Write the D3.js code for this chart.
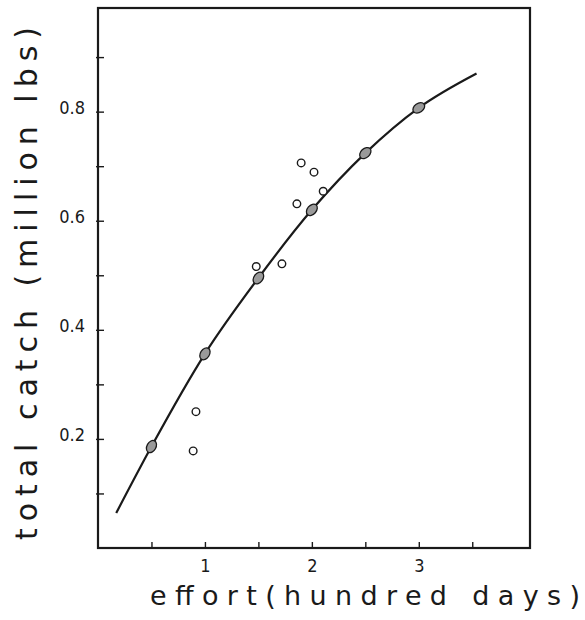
<!DOCTYPE html>
<html>
<head>
<meta charset="utf-8">
<script src="https://cdn.jsdelivr.net/npm/d3@7"></script>
<style>
  body { margin: 0; background: #fff; }
  text { font-family: "DejaVu Sans", sans-serif; fill: #1a1a1a; }
  .tick text { font-family: "Liberation Sans Narrow", "DejaVu Sans Condensed", sans-serif; }
</style>
</head>
<body>
<svg id="chart"></svg>
<script>
// hand-fitted catch curve
var curveEffort = [0.17, 0.5, 1, 1.5, 2, 2.5, 3, 3.54];
var curveCatch = [0.064, 0.186, 0.356, 0.495, 0.62, 0.724, 0.807, 0.87];

// hatched points sitting on the curve
var fittedEffort = [0.5, 1, 1.5, 2, 2.5, 3];
var fittedCatch = [0.186, 0.356, 0.495, 0.62, 0.724, 0.807];

// open circles: observed catches
var observedEffort = [0.89, 0.916, 1.48, 1.72, 1.86, 1.9, 2.02, 2.106];
var observedCatch = [0.178, 0.25, 0.516, 0.521, 0.631, 0.706, 0.689, 0.654];

var xTickValues = [0.5, 1, 1.5, 2, 2.5, 3, 3.5];
var xTickLabels = [1, 2, 3];
var yTickValues = [0.1, 0.2, 0.3, 0.4, 0.5, 0.6, 0.7, 0.8, 0.9];
var yTickLabels = [0.2, 0.4, 0.6, 0.8];

var width = 585,
  height = 620;

var svg = d3.select('#chart')
  .attr('width', width)
  .attr('height', height);

var x = d3.scaleLinear().domain([0, 4.04]).range([98, 530]);
var y = d3.scaleLinear().domain([0, 0.99]).range([548, 8]);

var ink = '#1a1a1a';

// x axis (ticks pointing inside)
var xAxis = svg.append('g')
  .attr('transform', 'translate(0,' + y(0) + ')')
  .call(d3.axisBottom(x)
    .tickValues(xTickValues)
    .tickSize(-6)
    .tickPadding(11)
    .tickFormat(function(d) {
      return xTickLabels.indexOf(d) >= 0 ? d3.format('d')(d) : '';
    }));
xAxis.select('.domain').remove();
xAxis.selectAll('line').attr('stroke', ink).attr('stroke-width', 1.4);
xAxis.selectAll('text').style('font-size', '18px').attr('fill', ink);

// y axis
var yAxis = svg.append('g')
  .attr('transform', 'translate(' + x(0) + ',0)')
  .call(d3.axisLeft(y)
    .tickValues(yTickValues)
    .tickSize(-6)
    .tickPadding(13)
    .tickFormat(function(d) {
      return yTickLabels.indexOf(d) >= 0 ? d3.format('.1f')(d) : '';
    }));
yAxis.select('.domain').remove();
yAxis.selectAll('line').attr('x1', -2).attr('stroke', ink).attr('stroke-width', 1.4);
yAxis.selectAll('text')
  .style('font-size', '18px')
  .attr('fill', ink)
  .attr('dy', '0.08em');

// frame
svg.append('rect')
  .attr('x', x(0))
  .attr('y', y(0.99))
  .attr('width', x(4.04) - x(0))
  .attr('height', y(0) - y(0.99))
  .attr('fill', 'none')
  .attr('stroke', ink)
  .attr('stroke-width', 2.2);

// curve
var curvePts = curveEffort.map(function(e, i) { return [e, curveCatch[i]]; });
var line = d3.line()
  .x(function(d) { return x(d[0]); })
  .y(function(d) { return y(d[1]); })
  .curve(d3.curveMonotoneX);

svg.append('path')
  .datum(curvePts)
  .attr('d', line)
  .attr('fill', 'none')
  .attr('stroke', ink)
  .attr('stroke-width', 2.2);

// hatched points, elongated along the curve
var fitted = fittedEffort.map(function(e, i) { return [e, fittedCatch[i]]; });
svg.append('g').selectAll('ellipse')
  .data(fitted)
  .enter().append('ellipse')
  .attr('rx', 6.5)
  .attr('ry', 4.5)
  .attr('transform', function(d) {
    var k = curveEffort.indexOf(d[0]);
    var a = curvePts[Math.max(k - 1, 0)], b = curvePts[Math.min(k + 1, curvePts.length - 1)];
    var ang = Math.atan2(y(b[1]) - y(a[1]), x(b[0]) - x(a[0])) * 180 / Math.PI;
    return 'translate(' + x(d[0]) + ',' + y(d[1]) + ') rotate(' + ang + ')';
  })
  .attr('fill', '#9a9a9a')
  .attr('stroke', ink)
  .attr('stroke-width', 1.3);

// open circles
svg.append('g').selectAll('circle')
  .data(observedEffort.map(function(e, i) { return [e, observedCatch[i]]; }))
  .enter().append('circle')
  .attr('cx', function(d) { return x(d[0]); })
  .attr('cy', function(d) { return y(d[1]); })
  .attr('r', 3.8)
  .attr('fill', '#fff')
  .attr('stroke', ink)
  .attr('stroke-width', 1.4);

// axis titles
svg.append('text')
  .attr('x', 150)
  .attr('y', 605)
  .attr('textLength', 430)
  .attr('lengthAdjust', 'spacing')
  .style('font-size', '27px')
  .text('effort(hundred days)');

svg.append('text')
  .attr('transform', 'translate(37,540) rotate(-90)')
  .attr('textLength', 513)
  .attr('lengthAdjust', 'spacing')
  .style('font-size', '30px')
  .text('total catch (million lbs)');
</script>
</body>
</html>
